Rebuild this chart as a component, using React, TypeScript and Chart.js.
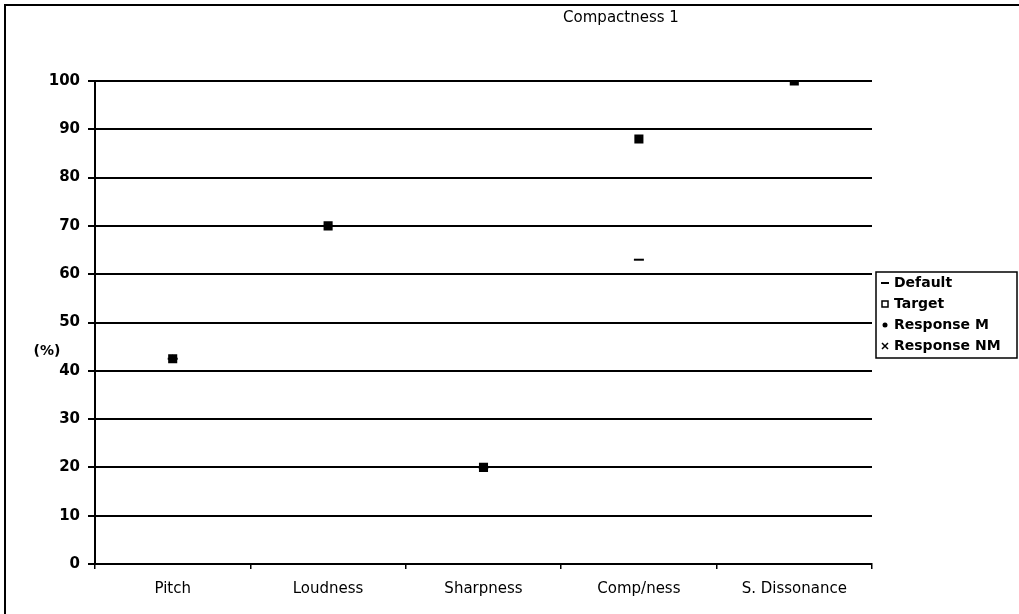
import React, { useEffect, useRef } from 'react';
import { Chart, registerables } from 'chart.js';

Chart.register(...registerables);

const categories = ['Pitch', 'Loudness', 'Sharpness', 'Comp/ness', 'S. Dissonance'];
const defaultValues = [42.5, 70, 20, 63, 100];
const targetValues = [42.5, 70, 20, 88, 100];
const responseMValues = [42.5, 70, 20, 88, 100];
const responseNMValues: (number | null)[] = [null, null, null, null, null];
const yTicks = { min: 0, max: 100, step: 10 };
const chartTitle = 'Compactness 1';
const yLabel = '(%)';
const seriesNames = ['Default', 'Target', 'Response M', 'Response NM'];

const FONT = '"DejaVu Sans", sans-serif';

const decorPlugin = {
  id: 'decor',
  afterDraw(chart: any) {
    const { ctx } = chart;
    ctx.save();
    // outer frame (left and top edges)
    ctx.strokeStyle = '#000';
    ctx.lineWidth = 2;
    ctx.beginPath();
    ctx.moveTo(5, 614);
    ctx.lineTo(5, 5);
    ctx.lineTo(1019, 5);
    ctx.stroke();

    // title
    ctx.fillStyle = '#000';
    ctx.font = `15px ${FONT}`;
    ctx.textAlign = 'center';
    ctx.textBaseline = 'middle';
    ctx.fillText(chartTitle, 621, 18);

    // y unit label
    ctx.font = `bold 14px ${FONT}`;
    ctx.fillText(yLabel, 47, 351);

    // legend
    const lx = 876, ly = 272, lw = 141, lh = 86;
    ctx.lineWidth = 1.5;
    ctx.strokeRect(lx, ly, lw, lh);
    ctx.font = `bold 14px ${FONT}`;
    ctx.textAlign = 'left';
    seriesNames.forEach((name, i) => {
      const cy = ly + 11 + i * 21;
      const mx = 885;
      ctx.lineWidth = 2;
      if (i === 0) {
        ctx.beginPath();
        ctx.moveTo(mx - 4, cy);
        ctx.lineTo(mx + 4, cy);
        ctx.stroke();
      } else if (i === 1) {
        ctx.lineWidth = 1.5;
        ctx.strokeRect(mx - 3, cy - 3, 6, 6);
      } else if (i === 2) {
        ctx.beginPath();
        ctx.arc(mx, cy, 2.5, 0, Math.PI * 2);
        ctx.fill();
      } else {
        ctx.lineWidth = 1.5;
        ctx.beginPath();
        ctx.moveTo(mx - 3, cy - 3);
        ctx.lineTo(mx + 3, cy + 3);
        ctx.moveTo(mx + 3, cy - 3);
        ctx.lineTo(mx - 3, cy + 3);
        ctx.stroke();
      }
      ctx.fillText(name, 894, cy);
    });
    ctx.restore();
  },
};

export default function App() {
  const canvasRef = useRef<HTMLCanvasElement | null>(null);

  useEffect(() => {
    if (!canvasRef.current) return;
    const chart = new Chart(canvasRef.current, {
      type: 'line',
      data: {
        labels: categories,
        datasets: [
          {
            label: seriesNames[0],
            data: defaultValues,
            showLine: false,
            pointStyle: 'line',
            pointRadius: 5,
            pointBorderWidth: 2,
            borderColor: '#000',
            backgroundColor: '#000',
            order: 3,
          },
          {
            label: seriesNames[1],
            data: targetValues,
            showLine: false,
            pointStyle: 'rect',
            pointRadius: 5,
            pointBorderWidth: 2,
            borderColor: '#000',
            backgroundColor: '#fff',
            order: 2,
          },
          {
            label: seriesNames[2],
            data: responseMValues,
            showLine: false,
            pointStyle: 'circle',
            pointRadius: 3.5,
            pointBorderWidth: 1,
            borderColor: '#000',
            backgroundColor: '#000',
            order: 1,
          },
          {
            label: seriesNames[3],
            data: responseNMValues,
            showLine: false,
            pointStyle: 'crossRot',
            pointRadius: 4,
            pointBorderWidth: 1.5,
            borderColor: '#000',
            backgroundColor: '#000',
            order: 0,
          },
        ],
      },
      options: {
        responsive: false,
        animation: false,
        layout: { padding: { left: 0, top: 81, right: 147, bottom: 0 } },
        plugins: {
          legend: { display: false },
          title: { display: false },
          tooltip: { enabled: false },
        },
        scales: {
          x: {
            offset: true,
            grid: {
              offset: true,
              drawOnChartArea: false,
              drawTicks: true,
              tickLength: 5,
              color: '#000',
              lineWidth: 1.5,
            },
            border: { display: true, color: '#000', width: 2 },
            ticks: {
              color: '#000',
              font: { family: FONT, size: 15 },
              padding: 11,
              maxRotation: 0,
            },
            afterFit(scale: any) {
              scale.height = 50;
            },
          },
          y: {
            min: yTicks.min,
            max: yTicks.max,
            ticks: {
              stepSize: yTicks.step,
              color: '#000',
              font: { family: FONT, size: 15, weight: 'bold' },
              padding: 8,
            },
            grid: {
              color: '#000',
              lineWidth: 2,
              tickLength: 7,
            },
            border: { display: true, color: '#000', width: 2 },
            afterFit(scale: any) {
              scale.width = 95;
            },
          },
        },
      },
      plugins: [decorPlugin],
    });
    return () => chart.destroy();
  }, []);

  return (
    <div style={{ position: 'fixed', left: 0, top: 0, width: 1019, height: 614, background: '#fff' }}>
      <canvas ref={canvasRef} width={1019} height={614} style={{ display: 'block' }} />
    </div>
  );
}
